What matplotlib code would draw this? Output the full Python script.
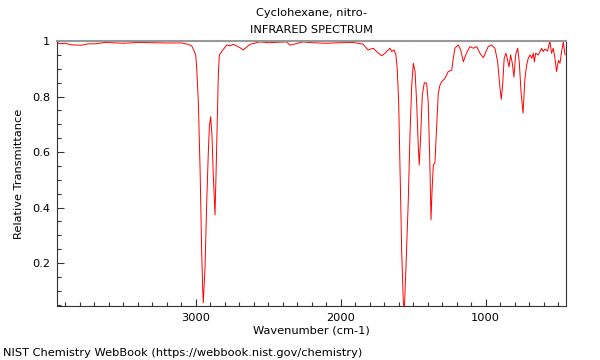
import numpy as np
import matplotlib
matplotlib.use("Agg")
import matplotlib.pyplot as plt
from matplotlib.ticker import FixedLocator, MultipleLocator

title = "Cyclohexane, nitro-"
subtitle = "INFRARED SPECTRUM"
footer = "NIST Chemistry WebBook (https://webbook.nist.gov/chemistry)"

# wavenumber (cm-1) and relative transmittance
wavenumber = [3957, 3936, 3901, 3855, 3786, 3741, 3694, 3625, 3500, 3398, 3300, 3200,
              3096, 3051, 3027, 3016, 3000, 2993, 2982, 2970, 2959, 2952, 2948, 2936,
              2924, 2913, 2906, 2897, 2888, 2879, 2867, 2860, 2851, 2844, 2837, 2821,
              2786, 2763, 2741, 2694, 2672, 2626, 2557, 2500, 2372, 2350, 2260, 2200,
              2100, 2000, 1915, 1846, 1812, 1775, 1752, 1717, 1694, 1660, 1648, 1632,
              1619, 1610, 1600, 1591, 1579, 1568, 1561, 1550, 1534, 1522, 1510, 1499,
              1487, 1476, 1465, 1458, 1448, 1437, 1423, 1407, 1396, 1384, 1377, 1370,
              1361, 1350, 1338, 1327, 1316, 1304, 1281, 1258, 1234, 1223, 1212, 1189,
              1172, 1154, 1142, 1127, 1108, 1085, 1062, 1039, 1016, 998, 982, 959,
              936, 917, 901, 892, 883, 872, 860, 848, 839, 828, 816, 805,
              793, 779, 768, 756, 742, 729, 717, 706, 694, 682, 671, 664,
              655, 637, 614, 603, 591, 573, 557, 545, 534, 523, 511, 498,
              487, 476, 464, 452]
transmittance = [0.995, 0.99, 0.992, 0.986, 0.985, 0.99, 0.99, 0.995, 0.992, 0.995, 0.994, 0.993,
                 0.993, 0.988, 0.982, 0.97, 0.95, 0.90, 0.78, 0.54, 0.24, 0.11, 0.057, 0.18,
                 0.42, 0.60, 0.69, 0.727, 0.66, 0.517, 0.373, 0.517, 0.72, 0.88, 0.95, 0.962,
                 0.986, 0.983, 0.988, 0.976, 0.968, 0.988, 0.997, 0.994, 0.997, 0.985, 0.997, 0.994,
                 0.992, 0.994, 0.995, 0.989, 0.968, 0.974, 0.962, 0.947, 0.956, 0.974, 0.962, 0.968,
                 0.95, 0.90, 0.78, 0.54, 0.24, 0.06, 0.03, 0.18, 0.42, 0.66, 0.84, 0.92,
                 0.89, 0.78, 0.625, 0.553, 0.66, 0.805, 0.85, 0.848, 0.78, 0.54, 0.355, 0.457,
                 0.553, 0.56, 0.69, 0.81, 0.84, 0.853, 0.865, 0.89, 0.895, 0.938, 0.974, 0.986,
                 0.968, 0.925, 0.943, 0.962, 0.98, 0.974, 0.98, 0.956, 0.94, 0.962, 0.98, 0.986,
                 0.974, 0.925, 0.83, 0.79, 0.84, 0.938, 0.956, 0.93, 0.907, 0.95, 0.92, 0.87,
                 0.95, 0.974, 0.925, 0.817, 0.74, 0.865, 0.914, 0.938, 0.95, 0.938, 0.956, 0.925,
                 0.956, 0.95, 0.974, 0.962, 0.971, 0.964, 1.0, 0.956, 0.974, 0.943, 0.89, 0.93,
                 0.92, 0.962, 0.997, 0.95]

ytick_vals = [0.2, 0.4, 0.6, 0.8, 1.0]
ytick_labels = ["0.2", "0.4", "0.6", "0.8", "1"]
xtick_vals = [3000, 2000, 1000]

fs = 8.2
fig = plt.figure(figsize=(6, 3.6), dpi=100)
ax = fig.add_axes([0.095, 0.15, 0.848, 0.736])

ax.plot(wavenumber, transmittance, color="#ff0000", lw=0.7)

ax.set_xlim(3957, 447)
ax.set_ylim(0.045, 1.0)

ax.yaxis.set_major_locator(FixedLocator(ytick_vals))
ax.set_yticklabels(ytick_labels)
ax.yaxis.set_minor_locator(MultipleLocator(0.05))
ax.xaxis.set_major_locator(FixedLocator(xtick_vals))
ax.xaxis.set_minor_locator(MultipleLocator(100))

ax.tick_params(which="both", direction="in", top=False, right=False,
               labelsize=fs, color="#333333", pad=5)
ax.tick_params(which="major", length=5, width=0.8)
ax.tick_params(which="minor", length=3, width=0.8)

for side in ["left", "bottom", "right"]:
    ax.spines[side].set_color("#333333")
    ax.spines[side].set_linewidth(0.8)
ax.spines["top"].set_color("#999999")
ax.spines["top"].set_linewidth(1.5)

ax.set_xlabel("Wavenumber (cm-1)", fontsize=fs, labelpad=2)
ax.set_ylabel("Relative Transmittance", fontsize=fs, labelpad=6)

fig.text(0.519, 0.965, title, ha="center", va="center", fontsize=fs)
fig.text(0.519, 0.916, subtitle, ha="center", va="center", fontsize=fs)
fig.text(0.005, 0.019, footer, ha="left", va="center", fontsize=fs)

fig.savefig("out.png", dpi=100)
